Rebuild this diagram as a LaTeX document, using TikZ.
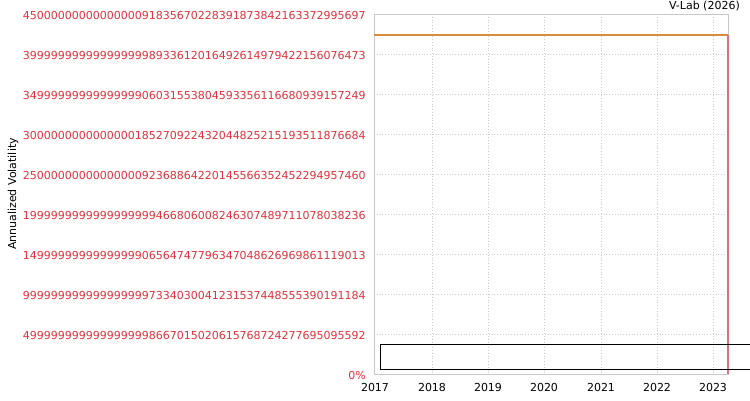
\documentclass[tikz,border=0pt]{standalone}
\usepackage{fontspec}
\setmainfont{DejaVu Sans}
\definecolor{gridc}{HTML}{CCCCCC}
\definecolor{framec}{HTML}{C8C8C8}
\definecolor{labred}{HTML}{E0303A}
\definecolor{orangec}{HTML}{D98C3E}
\definecolor{pinkc}{HTML}{D6747E}
\begin{document}
\begin{tikzpicture}[x=1pt,y=-1pt,
  lab/.style={font=\fontsize{11}{13}\selectfont, inner sep=0pt},
  ylab/.style={lab, text=labred, anchor=east},
  xlab/.style={lab, anchor=center},
  gridline/.style={gridc, dotted, line width=0.8pt},
  framestyle/.style={framec, line width=0.9pt}]
\useasboundingbox (0,0) rectangle (750,400);
\clip (0,0) rectangle (750,400);
% grid
\foreach \yy in {54,94,134,174,214,254,294,334} \draw[gridline] (374,\yy) -- (728,\yy);
\foreach \xx in {432,488,544,601,657,713} \draw[gridline] (\xx,14) -- (\xx,374);
% frame
\draw[framestyle] (374,14) rectangle (728,374);
% series
\coordinate (o1) at (374,35);
\coordinate (o2) at (728,35);
\coordinate (p2) at (728,374);
\draw[orangec, line width=1.1pt] (o1) -- (o2);
\draw[pinkc, line width=1.1pt] (o2) -- (p2);
% black box
\coordinate (b1) at (380,344);
\coordinate (b2) at (770,369);
\draw[black, line width=0.9pt] (b1) rectangle (b2);
% y labels
\node[ylab] (y45) at (366,15) {4500000000000000091835670228391873842163372995697};
\node[ylab] (y40) at (366,55) {3999999999999999998933612016492614979422156076473};
\node[ylab] (y35) at (366,95) {3499999999999999906031553804593356116680939157249};
\node[ylab] (y30) at (366,135) {3000000000000000185270922432044825215193511876684};
\node[ylab] (y25) at (366,175) {2500000000000000092368864220145566352452294957460};
\node[ylab] (y20) at (366,215) {1999999999999999999466806008246307489711078038236};
\node[ylab] (y15) at (366,255) {1499999999999999906564747796347048626969861119013};
\node[ylab] (y10) at (366,295) {9999999999999999997334030041231537448555390191184};
\node[ylab] (y05) at (366,335) {4999999999999999998667015020615768724277695095592};
\node[ylab] (y00) at (366,375) {0\%};
% x labels
\node[xlab] (x17) at (375,387) {2017};
\node[xlab] (x18) at (432,387) {2018};
\node[xlab] (x19) at (488,387) {2019};
\node[xlab] (x20) at (544,387) {2020};
\node[xlab] (x21) at (601,387) {2021};
\node[xlab] (x22) at (657,387) {2022};
\node[xlab] (x23) at (713,387) {2023};
% axis title
\node[lab, rotate=90] (ytitle) at (13,194) {Annualized Volatility};
\node[lab, anchor=east] (src) at (740,6) {V-Lab (2026)};
\end{tikzpicture}
\end{document}
